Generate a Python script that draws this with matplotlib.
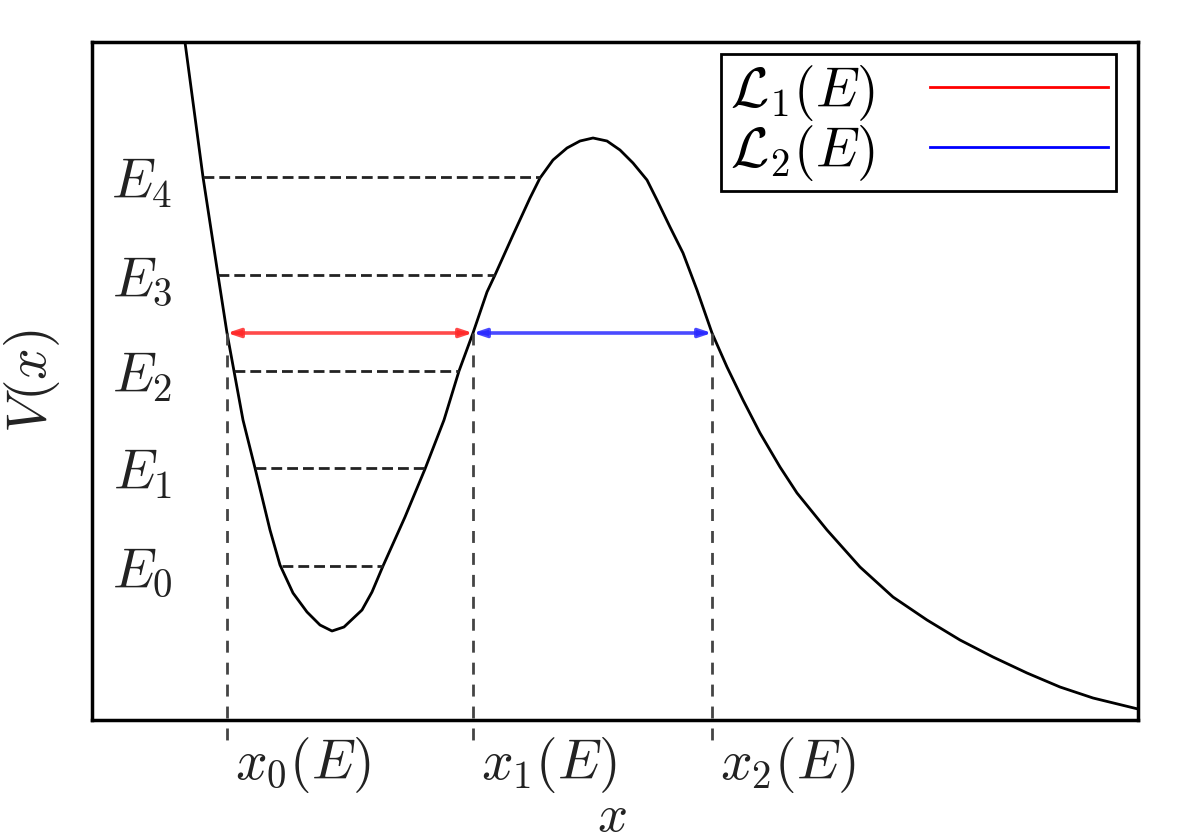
import matplotlib.pyplot as plt

plt.rcParams['mathtext.fontset'] = 'cm'
plt.rcParams['font.family'] = ['DejaVu Serif']

# potential curve V(x)
curve_x = [0.927, 1.11, 1.26, 1.35, 1.51, 1.63, 1.78, 1.88, 2.01, 2.15, 2.28, 2.40, 2.52,
           2.70, 2.80, 2.91, 3.13, 3.33, 3.52, 3.67, 3.81, 3.95, 4.03, 4.21, 4.38, 4.48,
           4.61, 4.75, 4.88, 5.01, 5.15, 5.28, 5.41, 5.55, 5.65, 5.78, 5.91, 6.05, 6.20,
           6.35, 6.51, 6.68, 6.88, 7.05, 7.35, 7.68, 8.01, 8.35, 8.68, 9.01, 9.35, 9.68,
           10.01, 10.46]
curve_y = [6.80, 5.43, 4.45, 3.87, 3.00, 2.52, 1.90, 1.55, 1.27, 1.08, 0.95, 0.89, 0.93,
           1.10, 1.28, 1.54, 2.03, 2.51, 3.00, 3.49, 3.87, 4.28, 4.45, 4.85, 5.22, 5.42,
           5.60, 5.72, 5.79, 5.82, 5.79, 5.70, 5.57, 5.40, 5.20, 4.93, 4.67, 4.30, 3.87,
           3.53, 3.20, 2.87, 2.53, 2.27, 1.90, 1.53, 1.23, 1.00, 0.80, 0.63, 0.47, 0.33,
           0.22, 0.11]

# energy levels and where they meet the well
levels = [1.54, 2.52, 3.49, 4.45, 5.43]
level_left = [1.90, 1.63, 1.42, 1.26, 1.11]
level_right = [2.91, 3.33, 3.67, 4.03, 4.48]
level_labels = ['$E_0$', '$E_1$', '$E_2$', '$E_3$', '$E_4$']

# energy E with its three turning points
energy = 3.87
turning = [1.35, 3.81, 6.20]
turning_labels = [r'$\,x_0(E)$', r'$\,x_1(E)$', r'$\,x_2(E)$']

fig = plt.figure(figsize=(12, 8.4), dpi=100)
ax = fig.add_axes([92 / 1200, 120 / 840, 1046 / 1200, 678 / 840])

ax.plot(curve_x, curve_y, color='black', lw=2.0, solid_joinstyle='round')

for e, xl, xr in zip(levels, level_left, level_right):
    ax.plot([xl, xr], [e, e], color='#222222', lw=2.0, linestyle=(0, (3.9, 1.8)))

for xt in turning:
    ax.plot([xt, xt], [energy, -0.22], color='#444444', lw=2.0,
            linestyle=(0, (4.3, 3.6)), clip_on=False)

# L1 and L2 arrows
arrow = '<|-|>,head_length=0.75,head_width=0.25'
ax.annotate('', xy=(turning[0], energy), xytext=(turning[1], energy),
            arrowprops=dict(arrowstyle=arrow, color='#ff2a2a', lw=2.6, alpha=0.85,
                            shrinkA=0, shrinkB=0))
ax.annotate('', xy=(turning[1], energy), xytext=(turning[2], energy),
            arrowprops=dict(arrowstyle=arrow, color='#2a2aff', lw=2.6, alpha=0.85,
                            shrinkA=0, shrinkB=0))

ax.plot([], [], color='red', lw=2.0, label=r'$\mathcal{L}_1(E)$')
ax.plot([], [], color='blue', lw=2.0, label=r'$\mathcal{L}_2(E)$')
leg = ax.legend(loc='upper right', bbox_to_anchor=(0.979, 0.982), borderaxespad=0,
                fontsize=40, markerfirst=False, fancybox=False, frameon=True,
                handlelength=3.2, handletextpad=1.0, borderpad=0.15,
                labelspacing=0.0, framealpha=1)
leg.get_frame().set_edgecolor('black')
leg.get_frame().set_linewidth(2.0)

ax.set_xlim(0, 10.46)
ax.set_ylim(0, 6.78)

ax.set_xticks(turning)
ax.set_xticklabels(turning_labels, fontsize=40, color='#222222', ha='left')
ax.tick_params(axis='x', length=0, pad=11)

ax.set_yticks(levels)
ax.set_yticklabels(level_labels, fontsize=40, color='#222222')
ax.tick_params(axis='y', length=0, pad=-58)

ax.set_xlabel('$x$', fontsize=38, color='#222222')
ax.xaxis.set_label_coords(0.497, -0.104)
ax.set_ylabel('$V(x)$', fontsize=40, color='#222222')
ax.yaxis.set_label_coords(-0.029, 0.5)

for s in ax.spines.values():
    s.set_linewidth(2.5)

fig.savefig('out.png', dpi=100)
